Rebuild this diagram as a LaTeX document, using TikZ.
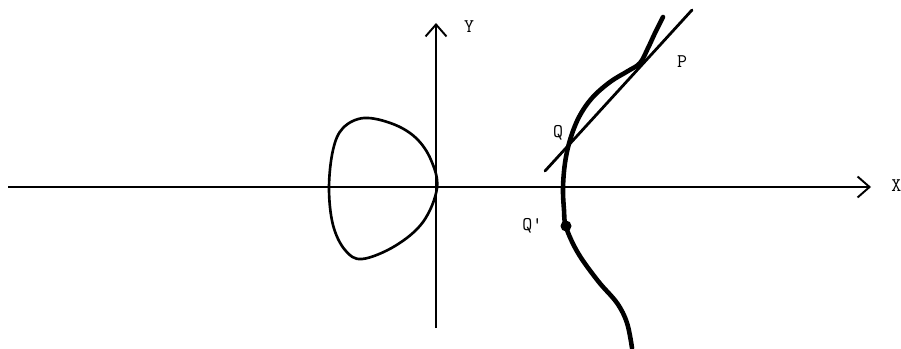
\documentclass[tikz,border=0pt]{standalone}
\usepackage{tikz}
\usetikzlibrary{arrows.meta, positioning}

\begin{document}
\begin{tikzpicture}[
    x=0.02cm, y=-0.02cm,
    axis/.style={line width=1.1pt, -{Straight Barb[length=0.24cm, width=0.42cm, line width=1.1pt]}},
    curve/.style={line width=2.6pt, line cap=round, line join=round},
    oval/.style={line width=1.5pt, line join=round},
    tangent/.style={line width=1.6pt, line cap=round},
    lbl/.style={font=\fontsize{11}{13}\selectfont\ttfamily, inner sep=0pt},
    ptdot/.style={circle, fill=black, inner sep=0pt, minimum size=0.22cm}
]
    \useasboundingbox (0,0) rectangle (901,348);
    % axes
    \coordinate (xs) at (8,187);
    \coordinate (xe) at (871,187);
    \coordinate (ys) at (436,328);
    \coordinate (ye) at (436,23);
    \draw[axis] (xs) -- (xe);
    \draw[axis] (ys) -- (ye);
    \node[lbl, anchor=west] (xl) at (891,186) {X};
    \node[lbl] (yl) at (469,27) {Y};

    % closed component of the curve
    \draw[oval] plot[smooth cycle, tension=0.6] coordinates {(437,188) (431,160) (416,138) (393,124) (364,118)
        (343,128) (333,150) (329,188) (333,225) (345,250) (362,259) (395,246) (423,222)};

    % open component of the curve
    \draw[curve] plot[smooth, tension=0.6] coordinates {(663,17) (655,33) (648,48) (640,63) (628,71)
        (610,82) (592,98) (579,117) (570,140) (565,163) (563,188) (564,210) (566,227)
        (578,253) (598,281) (617,303) (627,323) (632,348)};

    % tangent line
    \coordinate (ta) at (545,171);
    \coordinate (tb) at (692,10);
    \draw[tangent] (ta) -- (tb);

    \node[ptdot] (qq) at (566,226) {};
    \node[lbl] (p) at (682,62) {P};
    \node[lbl] (q) at (558,133) {Q};
    \node[lbl, left=0.35cm of qq] (qql) {Q'};
\end{tikzpicture}
\end{document}
